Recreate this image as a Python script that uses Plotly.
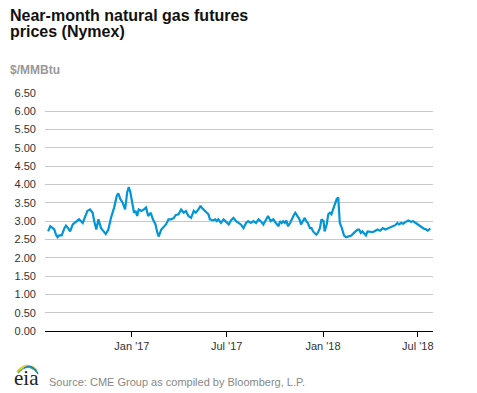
import plotly.graph_objects as go

# ---------------- data ----------------
dates = [
    "2016-07-25", "2016-07-29", "2016-08-03", "2016-08-06", "2016-08-09", "2016-08-12", "2016-08-15",
    "2016-08-20", "2016-08-25", "2016-08-28", "2016-09-01", "2016-09-05", "2016-09-10", "2016-09-16",
    "2016-09-22", "2016-09-29", "2016-10-03", "2016-10-08", "2016-10-13", "2016-10-18", "2016-10-21",
    "2016-10-25", "2016-10-29", "2016-11-03", "2016-11-08", "2016-11-12", "2016-11-17", "2016-11-22",
    "2016-11-28", "2016-12-03", "2016-12-06", "2016-12-10", "2016-12-14",
    "2016-12-19", "2016-12-23", "2016-12-26", "2016-12-29", "2017-01-02", "2017-01-05", "2017-01-08",
    "2017-01-11", "2017-01-14", "2017-01-19", "2017-01-24", "2017-01-28", "2017-02-01", "2017-02-06",
    "2017-02-10", "2017-02-15", "2017-02-18", "2017-02-21", "2017-02-26", "2017-03-03", "2017-03-07",
    "2017-03-12", "2017-03-17", "2017-03-22", "2017-03-26", "2017-03-31", "2017-04-05", "2017-04-10",
    "2017-04-14", "2017-04-19", "2017-04-24", "2017-04-29", "2017-05-03", "2017-05-08", "2017-05-12",
    "2017-05-14", "2017-05-17", "2017-05-20", "2017-05-24", "2017-05-27", "2017-05-30", "2017-06-05",
    "2017-06-09", "2017-06-12", "2017-06-15", "2017-06-20", "2017-06-25", "2017-06-30", "2017-07-05",
    "2017-07-09", "2017-07-14", "2017-07-19", "2017-07-24", "2017-07-28", "2017-08-02", "2017-08-07",
    "2017-08-11", "2017-08-16", "2017-08-21", "2017-08-26", "2017-08-31", "2017-09-04", "2017-09-09",
    "2017-09-13", "2017-09-18", "2017-09-23", "2017-09-28", "2017-10-03", "2017-10-08",
    "2017-10-11", "2017-10-14", "2017-10-17", "2017-10-20", "2017-10-23", "2017-10-26", "2017-10-30",
    "2017-11-02", "2017-11-07", "2017-11-09", "2017-11-13", "2017-11-17", "2017-11-20", "2017-11-24",
    "2017-11-27", "2017-11-30", "2017-12-03", "2017-12-07", "2017-12-10", "2017-12-13", "2017-12-16",
    "2017-12-19", "2017-12-22", "2017-12-26", "2017-12-29", "2018-01-02", "2018-01-04", "2018-01-08",
    "2018-01-11", "2018-01-14", "2018-01-17", "2018-01-20", "2018-01-24", "2018-01-27", "2018-01-30",
    "2018-01-31", "2018-02-02", "2018-02-06", "2018-02-10", "2018-02-14", "2018-02-19", "2018-02-24",
    "2018-03-01", "2018-03-05",
    "2018-03-08", "2018-03-11", "2018-03-14", "2018-03-17", "2018-03-21", "2018-03-24", "2018-03-27",
    "2018-04-01", "2018-04-06", "2018-04-11", "2018-04-15", "2018-04-20", "2018-04-25", "2018-04-30",
    "2018-05-04", "2018-05-09", "2018-05-14", "2018-05-19", "2018-05-23", "2018-05-26", "2018-05-30",
    "2018-06-03", "2018-06-08", "2018-06-13", "2018-06-18", "2018-06-22", "2018-06-27", "2018-07-03",
    "2018-07-07", "2018-07-12", "2018-07-17", "2018-07-20", "2018-07-25",
]

prices = [
    2.72, 2.86, 2.81, 2.77, 2.63, 2.56, 2.61, 2.61, 2.81, 2.88, 2.81, 2.72, 2.91, 2.98, 3.05, 2.95,
    3.09, 3.28, 3.32, 3.23, 3.00, 2.77, 3.05, 2.81, 2.72, 2.65, 2.77, 3.09, 3.37, 3.69, 3.76, 3.60, 3.51,
    3.32, 3.79, 3.93, 3.79, 3.46, 3.23, 3.28, 3.14, 3.32, 3.28, 3.32, 3.37, 3.14, 3.23, 3.05, 2.91,
    2.72, 2.58, 2.77, 2.86, 2.91, 3.05, 3.05, 3.09, 3.17, 3.19, 3.32, 3.23, 3.28, 3.14, 3.09, 3.28,
    3.23, 3.32, 3.42,
    3.37, 3.32, 3.28, 3.23, 3.19, 3.05, 3.02, 3.05, 3.00, 3.05, 2.95, 3.05, 2.98, 2.91, 3.02, 3.09,
    3.00, 2.95, 2.91, 2.81, 2.95, 3.00, 2.95, 3.00, 2.95, 3.05, 3.00, 2.91, 3.02, 3.14, 3.00, 3.05,
    2.95, 2.86,
    3.00, 2.95, 3.00, 2.95, 3.02, 2.86, 2.95, 3.05, 3.19, 3.23, 3.14, 3.05, 2.91, 3.00, 3.09, 3.00,
    2.95, 2.81, 2.81, 2.72, 2.68, 2.63, 2.68, 2.81, 3.05, 3.00, 2.72, 2.91, 3.19, 3.23, 3.19, 3.32,
    3.46, 3.60, 3.65, 3.28, 2.95, 2.81, 2.61, 2.56, 2.58, 2.61, 2.68, 2.74,
    2.77, 2.77, 2.68, 2.72, 2.65, 2.61, 2.72, 2.72, 2.70, 2.74, 2.77, 2.74, 2.81, 2.77, 2.80, 2.83,
    2.86, 2.89, 2.95, 2.91, 2.95, 2.93, 2.98, 3.02, 2.98, 3.00, 2.95, 2.89, 2.83, 2.80, 2.77, 2.74,
    2.80,
]

tick_dates = ["2017-01-01", "2017-07-01", "2018-01-01", "2018-07-01"]
tick_labels = ["Jan '17", "Jul '17", "Jan '18", "Jul '18"]

title_lines = ["Near-month natural gas futures", "prices (Nymex)"]
unit_label = "$/MMBtu"
source_text = "Source: CME Group as compiled by Bloomberg, L.P."

# ---------------- layout helpers ----------------
W, H = 477, 393
L, R, T, B = 45, 44, 93, 62
FONT = "Liberation Sans, Arial, sans-serif"


def px(x):
    return (x - L) / (W - L - R)


def py(y):
    return (H - B - y) / (H - T - B)


fig = go.Figure()
fig.add_trace(go.Scatter(
    x=dates, y=prices, mode="lines",
    line=dict(color="#0096d7", width=2.2),
    hoverinfo="skip", showlegend=False,
))

annotations = [
    dict(text="<b>%s</b>" % title_lines[0], x=px(8), y=py(15), xanchor="left", yanchor="middle",
         font=dict(family=FONT, size=16, color="#111")),
    dict(text="<b>%s</b>" % title_lines[1], x=px(8), y=py(31.5), xanchor="left", yanchor="middle",
         font=dict(family=FONT, size=16, color="#111")),
    dict(text="<b>%s</b>" % unit_label, x=px(8), y=py(70), xanchor="left", yanchor="middle",
         font=dict(family=FONT, size=12, color="#999")),
    dict(text=source_text, x=px(47), y=py(381.5), xanchor="left", yanchor="middle",
         font=dict(family=FONT, size=11, color="#888")),
    dict(text="eia", x=px(12), y=py(378), xanchor="left", yanchor="middle",
         font=dict(family="Liberation Serif, Times New Roman, serif", size=21, color="#222")),
]
for a in annotations:
    a.update(xref="paper", yref="paper", showarrow=False)


def arc(x0, y0, cx, cy, x1, y1):
    return "M %f %f Q %f %f %f %f" % (px(x0), py(y0), px(cx), py(cy), px(x1), py(y1))


shapes = [
    dict(type="path", path=arc(17, 372, 26, 360, 37, 370), line=dict(color="#f2c300", width=1.5)),
    dict(type="path", path=arc(18, 373, 27, 362, 37, 372), line=dict(color="#5cb85c", width=1.5)),
    dict(type="path", path=arc(24, 368, 32, 363, 38, 374), line=dict(color="#1a7fc1", width=1.5)),
]
for s in shapes:
    s.update(xref="paper", yref="paper")

fig.update_layout(
    width=W, height=H,
    margin=dict(l=L, r=R, t=T, b=B, pad=0),
    paper_bgcolor="white", plot_bgcolor="white",
    font=dict(family=FONT, size=11, color="#333"),
    annotations=annotations,
    shapes=shapes,
    showlegend=False,
    xaxis=dict(
        type="date",
        range=["2016-07-19", "2018-07-30"],
        tickmode="array", tickvals=tick_dates, ticktext=tick_labels,
        ticks="outside", ticklen=5, tickcolor="#000", tickwidth=1,
        showline=True, linecolor="#000", linewidth=1,
        showgrid=False, zeroline=False,
        tickfont=dict(family=FONT, size=11, color="#333"),
    ),
    yaxis=dict(
        range=[0, 6.5],
        tick0=0, dtick=0.5, tickformat=".2f",
        showgrid=True, gridcolor="#c8c8c8", gridwidth=1,
        zeroline=True, zerolinecolor="#000", zerolinewidth=1,
        showline=False, ticks="",
        ticklabelstandoff=8,
        tickfont=dict(family=FONT, size=11, color="#333"),
    ),
)

fig.write_html(
    "out.html",
    config={"displayModeBar": False, "staticPlot": True},
    post_script="document.body.style.margin='0';document.body.style.overflow='hidden';",
)
